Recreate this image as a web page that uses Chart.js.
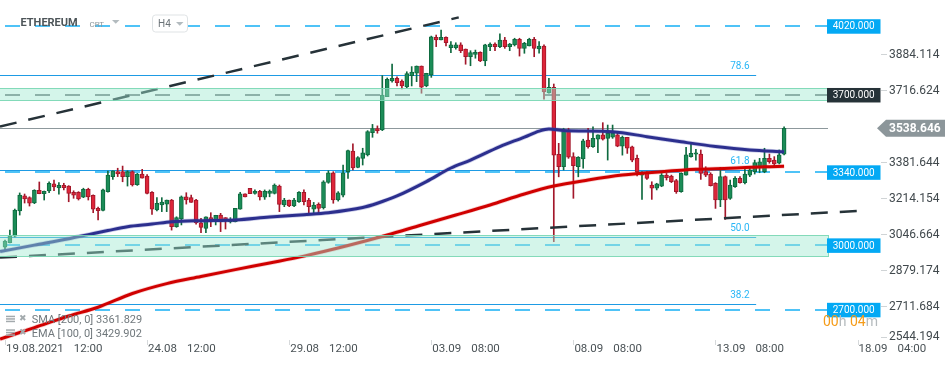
<!DOCTYPE html>
<html>
<head>
<meta charset="utf-8">
<script src="https://cdn.jsdelivr.net/npm/chart.js@4.4.1/dist/chart.umd.min.js"></script>
<style>
  html, body { margin: 0; padding: 0; background: #fff; }
  canvas { display: block; }
</style>
</head>
<body>
<canvas id="chart" width="950" height="367"></canvas>
<script>
// ── Candles (H4) ───────────────────────────────────────────
var openP = [
  2986,3006,3037,3154,3225,3216,3191,3250,3234,3247,
  3280,3261,3273,3270,3241,3241,3218,3255,3227,3166,
  3157,3244,3314,3337,3337,3314,3337,3276,3326,3317,
  3241,3159,3182,3186,3205,3081,3117,3220,3216,3205,
  3099,3073,3123,3112,3135,3123,3104,3104,3162,3234,
  3260,3236,3246,3218,3236,3236,3270,3182,3205,3178,
  3197,3241,3205,3163,3185,3169,3287,3332,3205,3228,
  3337,3433,3357,3399,3415,3518,3537,3531,3686,3759,
  3772,3759,3732,3784,3795,3829,3736,3787,3962,3950,
  3962,3914,3914,3927,3908,3872,3883,3893,3853,3919,
  3931,3919,3950,3919,3927,3953,3911,3922,3953,3908,
  3922,3704,3730,3418,3360,3531,3407,3360,3396,3484,
  3453,3488,3508,3492,3497,3508,3456,3497,3453,3399,
  3321,3329,3275,3260,3270,3321,3317,3295,3244,3321,
  3407,3418,3419,3337,3326,3283,3205,3314,3213,3267,
  3306,3286,3321,3337,3363,3337,3399,3391,3376,3419
];
var highP = [
  3019,3065,3163,3238,3233,3220,3253,3289,3247,3290,
  3298,3286,3283,3272,3248,3244,3260,3260,3229,3172,
  3256,3340,3341,3353,3363,3341,3341,3329,3348,3323,
  3244,3216,3216,3205,3208,3127,3224,3239,3228,3208,
  3120,3127,3146,3134,3143,3123,3123,3166,3241,3234,
  3260,3252,3250,3252,3252,3280,3275,3213,3205,3213,
  3244,3252,3213,3194,3192,3295,3341,3337,3244,3368,
  3438,3466,3407,3446,3528,3557,3550,3784,3773,3838,
  3778,3764,3802,3826,3829,3829,3795,3968,3973,3996,
  3965,3942,3937,3937,3908,3900,3903,3895,3930,3937,
  3937,3978,3962,3934,3958,3958,3939,3958,3962,3942,
  3927,3772,3745,3469,3539,3539,3425,3407,3488,3539,
  3546,3508,3565,3554,3554,3516,3503,3497,3456,3414,
  3337,3337,3290,3283,3329,3329,3321,3301,3332,3450,
  3469,3441,3438,3360,3332,3286,3357,3317,3298,3314,
  3314,3353,3360,3391,3399,3446,3419,3407,3438,3546
];
var lowP = [
  2968,3005,3033,3135,3191,3177,3188,3234,3205,3239,
  3248,3232,3252,3197,3213,3205,3216,3205,3146,3112,
  3154,3242,3301,3314,3290,3270,3270,3273,3307,3233,
  3138,3154,3151,3151,3065,3078,3089,3186,3194,3093,
  3053,3053,3081,3089,3058,3070,3098,3103,3162,3220,
  3234,3232,3205,3208,3220,3233,3151,3174,3174,3174,
  3194,3182,3143,3146,3146,3163,3283,3190,3200,3220,
  3306,3345,3355,3368,3410,3497,3516,3528,3686,3753,
  3736,3722,3728,3736,3756,3702,3732,3776,3919,3950,
  3922,3891,3907,3891,3837,3830,3865,3849,3830,3900,
  3900,3914,3911,3900,3922,3875,3888,3922,3872,3888,
  3674,3702,3011,3313,3345,3399,3213,3313,3353,3446,
  3450,3425,3484,3391,3492,3453,3414,3422,3383,3317,
  3208,3301,3208,3252,3267,3298,3286,3236,3241,3321,
  3404,3391,3301,3314,3270,3166,3174,3115,3208,3264,
  3283,3280,3314,3326,3332,3332,3376,3363,3373,3415
];
var closeP = [
  3014,3037,3158,3228,3210,3190,3250,3234,3245,3283,
  3266,3273,3262,3236,3228,3210,3255,3220,3162,3155,
  3252,3321,3341,3326,3314,3337,3275,3326,3307,3236,
  3162,3190,3196,3205,3081,3123,3220,3205,3194,3099,
  3078,3127,3104,3134,3104,3111,3112,3166,3234,3220,
  3234,3246,3220,3246,3247,3275,3185,3205,3178,3205,
  3241,3197,3174,3182,3166,3290,3332,3205,3239,3332,
  3435,3355,3402,3425,3523,3537,3528,3694,3767,3772,
  3751,3736,3793,3801,3829,3730,3795,3965,3950,3962,
  3937,3927,3927,3900,3872,3891,3893,3853,3927,3931,
  3919,3950,3919,3931,3953,3911,3934,3953,3911,3922,
  3708,3730,3414,3360,3523,3404,3365,3404,3481,3453,
  3492,3508,3488,3516,3516,3456,3497,3446,3391,3337,
  3329,3306,3260,3280,3321,3309,3290,3244,3329,3415,
  3422,3425,3329,3321,3272,3205,3314,3205,3275,3306,
  3286,3326,3345,3379,3383,3399,3383,3373,3415,3538.646
];

// ── Moving averages (sampled along the drawn curves) ───────
var emaIdx = [-1, 6, 13, 17, 21, 25, 30, 34, 40, 47, 54, 61, 66, 73, 76, 80, 86, 91, 95, 101, 106, 109, 111, 114, 124, 131, 138, 145, 152, 159];
var emaVal = [2965, 2995, 3025, 3044, 3063, 3081, 3093, 3104, 3109, 3112, 3126, 3137, 3146, 3170, 3190, 3224, 3291, 3354, 3391, 3454, 3498, 3526, 3536, 3529, 3523, 3500, 3476, 3454, 3438, 3429.902];
var smaIdx = [-1, 6, 13, 19, 26, 33, 40, 47, 54, 61, 70, 78, 85, 92, 99, 106, 112, 119, 126, 134, 141, 148, 155, 159];
var smaVal = [2558, 2611, 2665, 2706, 2770, 2816, 2849, 2881, 2912, 2944, 2993, 3042, 3089, 3135, 3182, 3233, 3270, 3298, 3321, 3337, 3348, 3353, 3360, 3361.829];

// ── Drawn objects ─────────────────────────────────────────
var trendUpIdx = [-1.02, 92.6];
var trendUpVal = [3547, 4055];
var trendLoIdx = [-1.02, 174];
var trendLoVal = [2937, 3154];

var levelVals   = [4020, 3700, 3340, 3000, 2700];
var levelLabels = ["4020.000", "3700.000", "3340.000", "3000.000", "2700.000"];
var levelColors = ["#03a9f4", "#263238", "#03a9f4", "#03a9f4", "#03a9f4"];
var zoneLow  = [3671, 2944];
var zoneHigh = [3726, 3041];

var fibVals  = [3787, 3343, 3031, 2721];
var fibNames = ["78.6", "61.8", "50.0", "38.2"];
var fibEndIdx = 153.3;
var fibLabelIdx = 150;

var lastPrice = 3538.646;
var yTicks = [2544.194, 2711.684, 2879.174, 3046.664, 3214.154, 3381.644, 3548.134, 3716.624, 3884.114];
var xTickIdx  = [0, 29, 58, 87, 116, 145, 174];
var xTickDate = ["19.08.2021", "24.08", "29.08", "03.09", "08.09", "13.09", "18.09"];
var xTickTime = ["12:00", "12:00", "12:00", "08:00", "08:00", "08:00", "04:00"];

// ── Build datasets ────────────────────────────────────────
var idx = openP.map(function(_, i) { return i; });
var isUp = idx.map(function(i) { return closeP[i] >= openP[i]; });

var wickData = idx.map(function(i) { return { x: i, y: [lowP[i], highP[i]] }; });
var bodyData = idx.map(function(i) {
  var lo = Math.min(openP[i], closeP[i]), hi = Math.max(openP[i], closeP[i]);
  if (hi - lo < 7) { var m = (hi + lo) / 2; lo = m - 3.5; hi = m + 3.5; }
  return { x: i, y: [lo, hi] };
});

function pts(xs, ys) {
  return xs.map(function(x, k) { return { x: x, y: ys[k] }; });
}

var BULL = "#1b8c57", BULL_LINE = "#0e6a3f";
var BEAR = "#dd2539", BEAR_LINE = "#a3172a";

var overlay = {
  id: "overlay",
  beforeDatasetsDraw: function(chart) {
    var ctx = chart.ctx, a = chart.chartArea, xs = chart.scales.x, ys = chart.scales.y;
    ctx.save();
    // fibonacci levels
    var xEnd = xs.getPixelForValue(fibEndIdx);
    ctx.strokeStyle = "#1e9be4";
    ctx.lineWidth = 1;
    fibVals.forEach(function(v) {
      var y = Math.round(ys.getPixelForValue(v)) + 0.5;
      ctx.beginPath(); ctx.moveTo(a.left, y); ctx.lineTo(xEnd, y); ctx.stroke();
    });
    // last price line
    var py = Math.round(ys.getPixelForValue(lastPrice)) + 0.5;
    ctx.strokeStyle = "#8d989c";
    ctx.beginPath(); ctx.moveTo(a.left, py); ctx.lineTo(a.right, py); ctx.stroke();
    // horizontal levels
    ctx.lineWidth = 2;
    ctx.setLineDash([15, 15]);
    levelVals.forEach(function(v, k) {
      var y = Math.round(ys.getPixelForValue(v)) + 1;
      ctx.strokeStyle = k === 1 ? "rgba(38,50,56,0.6)" : "#4fc3f7";
      ctx.beginPath(); ctx.moveTo(a.left + 5, y); ctx.lineTo(a.right, y); ctx.stroke();
    });
    ctx.restore();
  },
  afterDatasetsDraw: function(chart) {
    var ctx = chart.ctx, a = chart.chartArea, ys = chart.scales.y;
    ctx.save();
    zoneLow.forEach(function(lo, k) {
      var y1 = Math.round(ys.getPixelForValue(zoneHigh[k])) + 0.5;
      var y2 = Math.round(ys.getPixelForValue(lo)) + 0.5;
      ctx.fillStyle = "rgba(160,233,208,0.45)";
      ctx.fillRect(a.left, y1, a.right - a.left, y2 - y1);
      ctx.strokeStyle = "rgba(120,214,178,0.9)";
      ctx.lineWidth = 1;
      ctx.strokeRect(a.left - 1, y1, a.right - a.left + 1.5, y2 - y1);
    });
    ctx.restore();
  },
  afterDraw: function(chart) {
    var ctx = chart.ctx, a = chart.chartArea, xs = chart.scales.x, ys = chart.scales.y;
    ctx.save();
    ctx.textBaseline = "middle";

    // fib labels
    ctx.font = "10px Roboto";
    ctx.fillStyle = "#29b6f6";
    ctx.textAlign = "center";
    var fx = xs.getPixelForValue(fibLabelIdx);
    fibVals.forEach(function(v, k) {
      ctx.fillText(fibNames[k], fx, ys.getPixelForValue(v) - 8.5);
    });

    // y axis labels
    ctx.textAlign = "left";
    ctx.font = "12px Roboto";
    yTicks.forEach(function(v) {
      var y = Math.min(ys.getPixelForValue(v), a.bottom - 5.5);
      ctx.fillStyle = "#d0d4d6";
      ctx.fillRect(881, Math.round(y), 6, 1);
      ctx.fillStyle = "#41494d";
      ctx.fillText(v.toFixed(3), 889, y + 0.5);
    });

    // level tags
    ctx.font = "10px Roboto";
    ctx.textAlign = "center";
    levelVals.forEach(function(v, k) {
      var y = ys.getPixelForValue(v) + 1.5;
      ctx.fillStyle = levelColors[k];
      ctx.fillRect(827, y - 7.2, 53.5, 14.5);
      ctx.fillStyle = "#ffffff";
      ctx.fillText(levelLabels[k], 853.7, y + 0.5);
    });

    // last price tag
    var py = ys.getPixelForValue(lastPrice);
    ctx.fillStyle = "#8c969a";
    ctx.beginPath();
    ctx.moveTo(877, py); ctx.lineTo(886, py - 8.5); ctx.lineTo(945, py - 8.5);
    ctx.lineTo(945, py + 8.5); ctx.lineTo(886, py + 8.5); ctx.closePath(); ctx.fill();
    ctx.fillStyle = "#ffffff";
    ctx.font = "bold 12px Roboto";
    ctx.textAlign = "left";
    ctx.fillText(lastPrice.toFixed(3), 889, py + 0.5);

    // x axis labels
    ctx.font = "11.5px Roboto";
    xTickIdx.forEach(function(t, k) {
      var x = xs.getPixelForValue(t);
      ctx.fillStyle = "#d6d9db";
      ctx.fillRect(Math.round(x), 340, 1, 5);
      ctx.fillStyle = "#4a5256";
      ctx.fillText(xTickDate[k], x + 1, 349);
      var w = ctx.measureText(xTickDate[k]).width;
      ctx.fillText(xTickTime[k], x + 1 + w + 10, 349);
    });

    // countdown
    ctx.font = "14px Roboto";
    var cx = 823;
    [["00", "#f59c1a"], ["h ", "#b4babd"], ["04", "#f59c1a"], ["m", "#b4babd"]].forEach(function(p) {
      ctx.fillStyle = p[1];
      ctx.fillText(p[0], cx, 322);
      cx += ctx.measureText(p[0]).width;
    });

    // legend
    [["SMA [200, 0] 3361.829", 320.7], ["EMA [100, 0] 3429.902", 334.3]].forEach(function(r) {
      var y = r[1];
      ctx.fillStyle = "#a3aaad";
      ctx.fillRect(6, y - 5, 9, 1.5);
      ctx.fillRect(6, y - 2.5, 9, 1.5);
      ctx.fillRect(6, y, 9, 1.5);
      ctx.font = "9px DejaVu Sans";
      ctx.fillText("\u2716", 19, y - 2);
      ctx.font = "11px Roboto";
      ctx.fillStyle = "#70787c";
      ctx.fillText(r[0], 31.7, y);
    });

    // title
    ctx.font = "bold 11px Roboto";
    ctx.fillStyle = "#4d5559";
    ctx.fillText("ETHEREUM", 20.5, 23.5);
    ctx.font = "8px Roboto";
    ctx.fillStyle = "#8a959a";
    ctx.fillText("CRT", 89.5, 24.5);
    function tri(x, y, c) {
      ctx.fillStyle = c;
      ctx.beginPath(); ctx.moveTo(x, y); ctx.lineTo(x + 7.5, y); ctx.lineTo(x + 3.75, y + 3.8); ctx.closePath(); ctx.fill();
    }
    tri(112, 20, "#b3bbbf");
    ctx.fillStyle = "#ffffff";
    ctx.strokeStyle = "#dfe3e5";
    ctx.lineWidth = 1;
    ctx.beginPath();
    ctx.roundRect(152.5, 15, 35, 17, 3);
    ctx.fill(); ctx.stroke();
    ctx.font = "10px Roboto";
    ctx.fillStyle = "#6b7378";
    ctx.fillText("H4", 158, 24);
    tri(176, 22, "#b3bbbf");

    ctx.restore();
  }
};

new Chart(document.getElementById("chart"), {
  type: "bar",
  data: {
    datasets: [
      {
        type: "line", data: pts(emaIdx, emaVal), order: 1,
        borderColor: "#2c2f8e", borderWidth: 3, pointRadius: 0,
        cubicInterpolationMode: "monotone"
      },
      {
        type: "line", data: pts(emaIdx, emaVal), order: 2,
        borderColor: "rgba(70,76,175,0.28)", borderWidth: 4.5, pointRadius: 0,
        cubicInterpolationMode: "monotone"
      },
      {
        type: "line", data: pts(smaIdx, smaVal), order: 1,
        borderColor: "#d00000", borderWidth: 3, pointRadius: 0,
        cubicInterpolationMode: "monotone"
      },
      {
        type: "line", data: pts(smaIdx, smaVal), order: 2,
        borderColor: "rgba(225,60,60,0.25)", borderWidth: 4.5, pointRadius: 0,
        cubicInterpolationMode: "monotone"
      },
      {
        type: "line", data: pts(trendUpIdx, trendUpVal), order: 3,
        borderColor: "#263238", borderWidth: 2.5, borderDash: [17, 12], pointRadius: 0
      },
      {
        type: "line", data: pts(trendLoIdx, trendLoVal), order: 3, clip: false,
        borderColor: "#263238", borderWidth: 2.5, borderDash: [17, 12], pointRadius: 0
      },
      {
        data: bodyData, order: 4, grouped: false, barThickness: 4, borderWidth: 1, borderSkipped: false,
        backgroundColor: idx.map(function(i) { return isUp[i] ? BULL : BEAR; }),
        borderColor: idx.map(function(i) { return isUp[i] ? BULL_LINE : BEAR_LINE; })
      },
      {
        data: wickData, order: 5, grouped: false, barThickness: 1, borderWidth: 0,
        backgroundColor: idx.map(function(i) { return isUp[i] ? BULL_LINE : BEAR_LINE; })
      }
    ]
  },
  options: {
    responsive: false,
    animation: false,
    events: [],
    layout: { padding: { left: 0, top: 0, right: 122, bottom: 25 } },
    plugins: { legend: { display: false }, tooltip: { enabled: false } },
    scales: {
      x: { type: "linear", display: false, min: -1.0204, max: 167.96, offset: false },
      y: { type: "linear", display: false, min: 2544.194, max: 4136 }
    }
  },
  plugins: [overlay]
});
</script>
</body>
</html>
